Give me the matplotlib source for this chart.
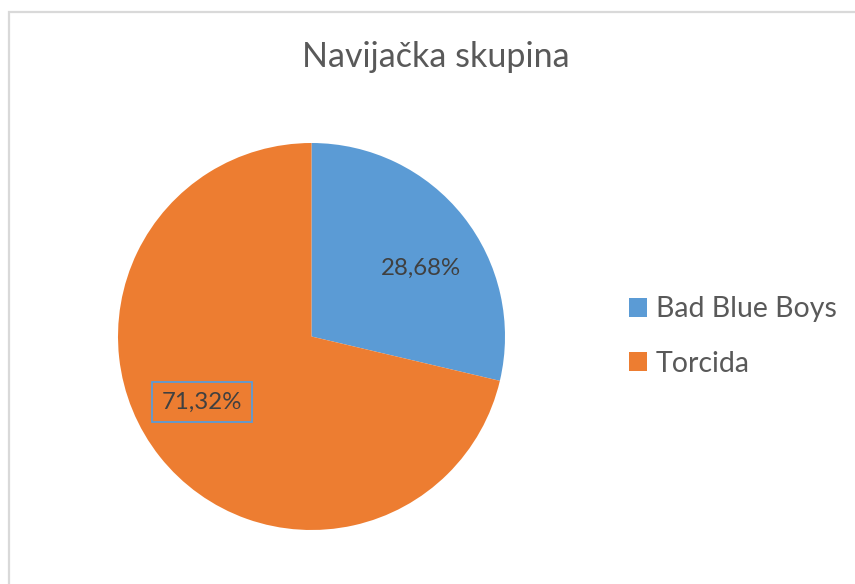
import matplotlib
matplotlib.use("Agg")
import matplotlib.pyplot as plt
from matplotlib.patches import Rectangle, Patch

categories = ["Bad Blue Boys", "Torcida"]
values = [28.68, 71.32]
colors = ["#5B9BD5", "#ED7D31"]
title = "Navijačka skupina"

plt.rcParams['font.family'] = ['Lato', 'DejaVu Sans']

W, H = 855, 584
fig = plt.figure(figsize=(W / 100, H / 100), dpi=100)

# border
fig.patches.append(Rectangle((8.5 / W, -0.1), 1.2, 1.1 - 11.5 / H + 0.0,
                             transform=fig.transFigure, fill=False,
                             edgecolor="#D9D9D9", linewidth=1.6))

cx, cy, R = 311.5, 336.5, 193.5
ax = fig.add_axes([(cx - R) / W, (H - cy - R) / H, 2 * R / W, 2 * R / H])
wedges, texts, autotexts = ax.pie(values, colors=colors, startangle=90,
                                  counterclock=False, radius=1,
                                  autopct=lambda p: f"{p:.2f}%".replace(".", ","),
                                  wedgeprops=dict(linewidth=0),
                                  textprops=dict(color="#404040", fontsize=17.3))
ax.set_xlim(-1, 1)
ax.set_ylim(-1, 1)

label_pos = [(0.566, 0.354), (-0.566, -0.338)]
for t, pos in zip(autotexts, label_pos):
    t.set_position(pos)
    t.set_ha("center")
    t.set_va("center")
autotexts[1].set_bbox(dict(facecolor="none", edgecolor="#5B9BD5",
                           linewidth=1.3, boxstyle="square,pad=0.4"))

fig.text(436 / W, 1 - 57 / H, title, ha="center", va="center",
         fontsize=24.5, color="#595959")

leg = fig.legend(handles=[Patch(facecolor=c, edgecolor="none") for c in colors],
                 labels=categories, loc="center left",
                 bbox_to_anchor=(629 / W, 1 - 336.5 / H), frameon=False,
                 borderaxespad=0, borderpad=0,
                 fontsize=20.5, labelcolor="#595959", handlelength=0.63,
                 handleheight=0.63, handletextpad=0.32, labelspacing=1.0)

fig.savefig("out.png", dpi=100)
